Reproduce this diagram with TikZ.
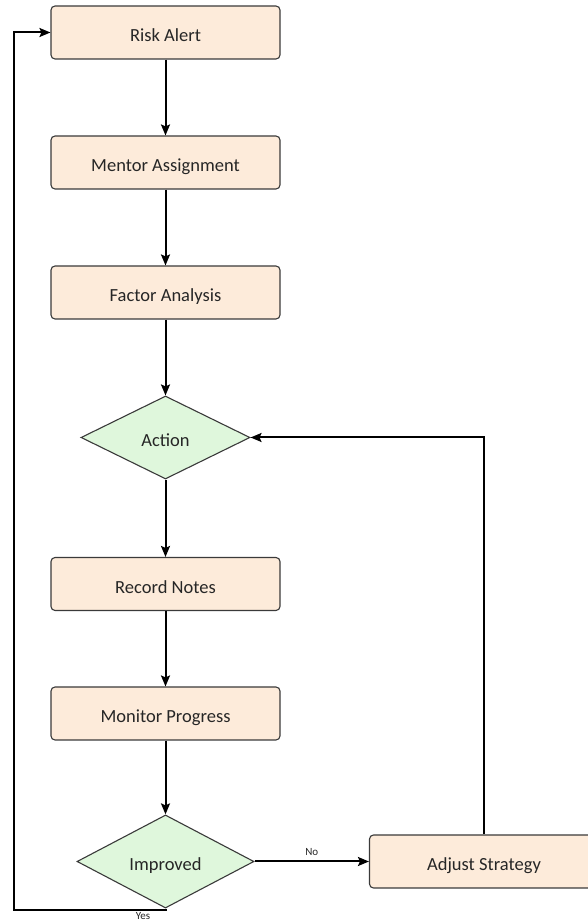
\documentclass[tikz,border=0pt]{standalone}
\usepackage{fontspec}
\setmainfont{Carlito}
\usepackage{tikz}
\usetikzlibrary{arrows.meta,shapes.geometric}
\definecolor{StepFill}{HTML}{FDEBDA}
\definecolor{AskFill}{HTML}{DFF7DC}
\definecolor{Edge}{HTML}{3A3A3A}
\definecolor{Ink}{HTML}{262626}

\begin{document}
\begin{tikzpicture}[x=1pt,y=1pt,>={Stealth[length=11pt,width=9pt,inset=2pt]},
    every node/.style={font=\fontsize{18.5}{22}\selectfont,text=Ink},
    stepbox/.style={draw=Edge,fill=StepFill,line width=1.1pt,rounded corners=4pt,
      minimum width=229pt,minimum height=53pt,inner sep=0pt,text height=20pt,text depth=1pt},
    askbox/.style={draw=Edge,fill=AskFill,line width=1.1pt,diamond,inner sep=0pt,
      text height=20pt,text depth=1pt},
    flow/.style={->,line width=2pt,black},
    tag/.style={font=\fontsize{11}{12}\selectfont,inner sep=1pt}]
    \useasboundingbox (0,0) rectangle (587,922);

    \node[stepbox] (alert) at (165.5,889.5) {Risk Alert};
    \node[stepbox] (mentor) at (165.5,759.5) {Mentor Assignment};
    \node[stepbox] (factor) at (165.5,629.5) {Factor Analysis};
    \node[askbox,minimum width=169pt,minimum height=83pt] (action) at (165.5,484.5) {Action};
    \node[stepbox] (notes) at (165.5,338) {Record Notes};
    \node[stepbox] (monitor) at (165.5,208.5) {Monitor Progress};
    \node[askbox,minimum width=177pt,minimum height=89pt] (improved) at (165.5,60.5) {Improved};
    \node[stepbox] (adjust) at (484,60.5) {Adjust Strategy};

    \draw[flow] (alert) -- (mentor);
    \draw[flow] (mentor) -- (factor);
    \draw[flow] (factor) -- (action);
    \draw[flow] (action) -- (notes);
    \draw[flow] (notes) -- (monitor);
    \draw[flow] (monitor) -- (improved);

    \draw[flow] (improved.east) -- node[tag,above=4pt] (nolabel) {No} (adjust.west);
    \draw[flow] (adjust.north) |- (action.east);

    \coordinate (loopbottom) at (14,12);
    \draw[flow] (improved.south) |- (loopbottom) |- (alert.west);
    \node[tag,anchor=north] (yeslabel) at (143,11) {Yes};
  \end{tikzpicture}
\end{document}
